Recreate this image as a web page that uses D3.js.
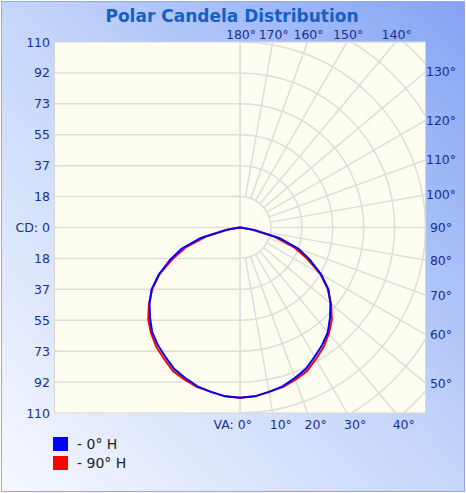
<!DOCTYPE html>
<html>
<head>
<meta charset="utf-8">
<script src="https://cdn.jsdelivr.net/npm/d3@7"></script>
<style>
  body { margin: 0; background: #fff; }
  svg { display: block; }
</style>
</head>
<body>
<svg id="chart"></svg>
<script>
// vertical angles (deg, 0 = straight down) and candela per horizontal plane
const vAngles = [0, 5, 10, 15, 20, 25, 30, 35, 40, 45, 50, 55, 60, 65, 70, 75, 80, 85, 90];
const cd0H  = [101, 100.5, 99, 97.5, 95, 92.5, 88.5, 85, 81, 75.5, 70, 64, 55.5, 46, 37, 24, 9, 0.5, 0];
const cd90H = [101, 100.5, 99, 98, 96, 94, 90, 86.5, 82, 77, 70.5, 63.5, 55, 44, 34, 21, 7, 0, 0];

const seriesNames = ["0° H", "90° H"];
const seriesColors = ["#0000ff", "#ff0000"];

// axis labels
const cdMax = 110;
const cdTickLabels = ["CD: 0", "18", "37", "55", "73", "92", "110"];
const bottomAngles = [0, 10, 20, 30, 40];
const rightAngles = [50, 60, 70, 80, 90, 100, 110, 120, 130];
const topAngles = [140, 150, 160, 170, 180];
const gridAngles = d3.range(0, 181, 10);

const W = 466, H = 493;
const cx = 240, cy = 227.5, R = 185.5;
const plotL = cx - R, plotR = cx + R, plotT = cy - R, plotB = cy + R;

const r = d3.scaleLinear().domain([0, cdMax]).range([0, R]);
const rad = d => d * Math.PI / 180;

const svg = d3.select("#chart").attr("width", W).attr("height", H);
const defs = svg.append("defs");

const bg = defs.append("linearGradient").attr("id", "bg")
  .attr("x1", 0).attr("y1", 1).attr("x2", 1).attr("y2", 0);
bg.append("stop").attr("offset", "0%").attr("stop-color", "#f5f8fe");
bg.append("stop").attr("offset", "50%").attr("stop-color", "#c6d6fa");
bg.append("stop").attr("offset", "100%").attr("stop-color", "#84a3f3");

defs.append("clipPath").attr("id", "rightHalf")
  .append("rect").attr("x", cx).attr("y", plotT).attr("width", plotR - cx).attr("height", plotB - plotT);

svg.append("rect")
  .attr("x", 1.5).attr("y", 1.5).attr("width", W - 3).attr("height", H - 3)
  .attr("fill", "url(#bg)").attr("stroke", "#8eabef");

// title
svg.append("text")
  .attr("x", 232).attr("y", 22)
  .attr("text-anchor", "middle")
  .style("font", "bold 17px 'DejaVu Sans'")
  .attr("fill", "#1660c4")
  .text("Polar Candela Distribution");

// plot area
svg.append("rect")
  .attr("x", plotL).attr("y", plotT).attr("width", plotR - plotL).attr("height", plotB - plotT)
  .attr("fill", "#fefef0").attr("stroke", "#d6d6d6");

const grid = svg.append("g")
  .attr("stroke", "#dcdcdc").attr("stroke-width", 1.5).attr("fill", "none");

// left half: horizontal lines
grid.selectAll("line.h")
  .data(d3.range(0, 6))
  .enter().append("line")
    .attr("x1", plotL).attr("x2", cx)
    .attr("y1", k => cy - r(cdMax * k / 6))
    .attr("y2", k => cy - r(cdMax * k / 6));
grid.selectAll("line.h2")
  .data(d3.range(1, 6))
  .enter().append("line")
    .attr("x1", plotL).attr("x2", cx)
    .attr("y1", k => cy + r(cdMax * k / 6))
    .attr("y2", k => cy + r(cdMax * k / 6));

// right half: polar grid
const polar = grid.append("g").attr("clip-path", "url(#rightHalf)");
polar.selectAll("circle")
  .data(d3.range(1, 9))
  .enter().append("circle")
    .attr("cx", cx).attr("cy", cy)
    .attr("r", k => r(cdMax * k / 6));
polar.selectAll("line")
  .data(gridAngles)
  .enter().append("line")
    .attr("x1", a => cx + r(cdMax / 6) * Math.sin(rad(a)))
    .attr("y1", a => cy + r(cdMax / 6) * Math.cos(rad(a)))
    .attr("x2", a => cx + 3 * R * Math.sin(rad(a)))
    .attr("y2", a => cy + 3 * R * Math.cos(rad(a)));

// center vertical
grid.append("line")
  .attr("x1", cx).attr("x2", cx).attr("y1", plotT).attr("y2", plotB);

// labels
const labelFont = "12.5px 'DejaVu Sans'";
const labelColor = "#1a2f8f";

svg.append("g")
  .style("font", labelFont).attr("fill", labelColor)
  .attr("text-anchor", "end")
  .selectAll("text")
  .data(cdTickLabels.flatMap((t, k) => k === 0
      ? [{t, y: cy}]
      : [{t, y: cy - r(cdMax * k / 6)}, {t, y: cy + r(cdMax * k / 6)}]))
  .enter().append("text")
    .attr("x", 50).attr("y", d => d.y)
    .attr("dy", "0.36em")
    .text(d => d.t);

// bottom angle labels
svg.append("g")
  .style("font", labelFont).attr("fill", labelColor)
  .selectAll("text")
  .data(bottomAngles)
  .enter().append("text")
    .attr("x", a => a === 0 ? cx + 12 : cx + Math.tan(rad(a)) * R - 3)
    .attr("text-anchor", a => a === 0 ? "end" : "start")
    .attr("y", 429)
    .text(a => (a === 0 ? "VA: " : "") + a + "°");

// right angle labels
svg.append("g")
  .style("font", labelFont).attr("fill", labelColor)
  .attr("text-anchor", "middle")
  .selectAll("text")
  .data(rightAngles)
  .enter().append("text")
    .attr("x", 441)
    .attr("y", a => cy + R * Math.cos(rad(a)) / Math.sin(rad(a)))
    .attr("dy", "0.36em")
    .text(a => a + "°");

// top angle labels
svg.append("g")
  .style("font", labelFont).attr("fill", labelColor)
  .attr("text-anchor", "middle")
  .selectAll("text")
  .data(topAngles)
  .enter().append("text")
    .attr("x", a => cx + R * Math.sin(rad(a)) / -Math.cos(rad(a)) + 1)
    .attr("y", 39)
    .text(a => a + "°");

// curves: right side at the measured angle, left side mirrored
const line = d3.lineRadial()
  .angle(d => d.a)
  .radius(d => r(d.v))
  .curve(d3.curveLinearClosed);

function curvePoints(values) {
  const rightSide = vAngles.map((a, i) => ({a: Math.PI - rad(a), v: values[i]}));
  const leftSide = vAngles.map((a, i) => ({a: Math.PI + rad(a), v: values[i]})).reverse();
  return rightSide.concat(leftSide);
}

const curves = svg.append("g").attr("transform", `translate(${cx},${cy})`)
  .attr("fill", "none").attr("stroke-width", 2).attr("stroke-linejoin", "round");
[cd90H, cd0H].forEach((vals, i) => {
  const idx = 1 - i;
  curves.append("path")
    .datum(curvePoints(vals))
    .attr("stroke", seriesColors[idx])
    .attr("d", line);
});

// legend
const legend = svg.append("g")
  .selectAll("g")
  .data(seriesNames)
  .enter().append("g")
    .attr("transform", (d, i) => `translate(53,${437 + i * 19})`);
legend.append("rect")
  .attr("width", 15).attr("height", 14)
  .attr("fill", (d, i) => seriesColors[i]);
legend.append("text")
  .attr("x", 24).attr("y", 7).attr("dy", "0.36em")
  .style("font", "14px 'DejaVu Sans'").attr("fill", "#222")
  .text(d => "- " + d);
</script>
</body>
</html>
